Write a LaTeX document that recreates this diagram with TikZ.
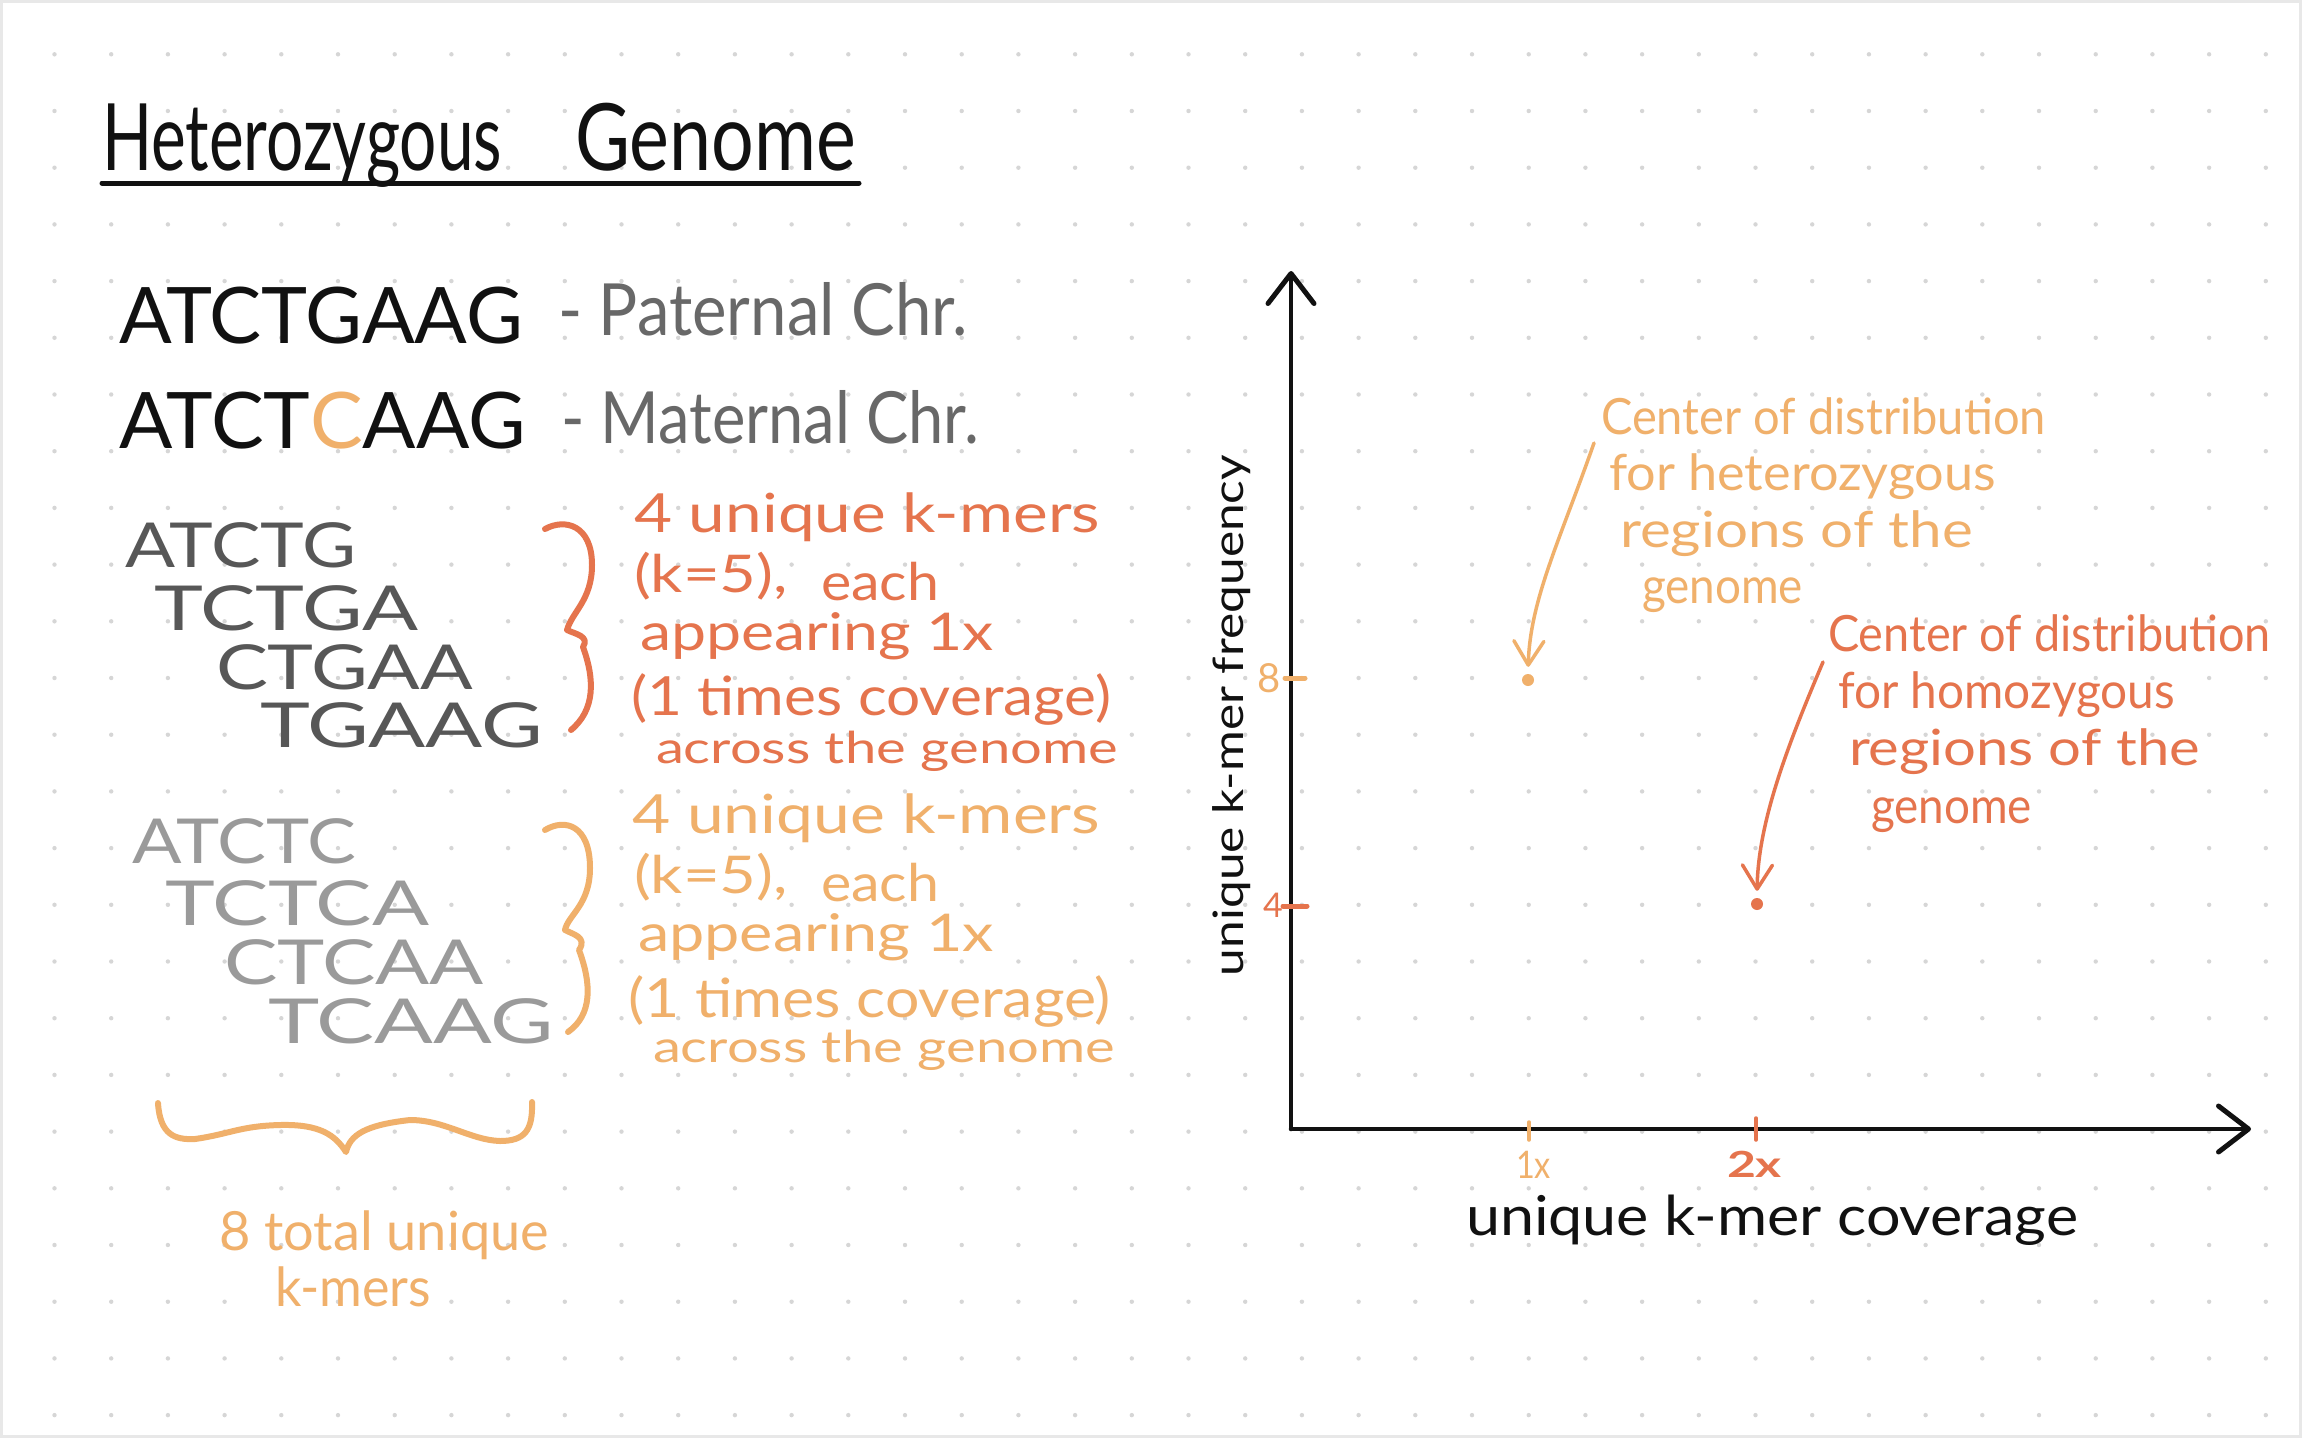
\documentclass[tikz,border=0pt]{standalone}
\usepackage{fontspec}
\setmainfont{Lato}
\usepackage{graphicx}
\usetikzlibrary{arrows.meta}
\definecolor{ink}{HTML}{111111}
\definecolor{greyA}{HTML}{686868}
\definecolor{greyB}{HTML}{575757}
\definecolor{greyC}{HTML}{9A9A9A}
\definecolor{kred}{HTML}{E5744D}
\definecolor{korange}{HTML}{F0B06B}
\definecolor{dotc}{HTML}{D6D6D6}
\definecolor{framec}{HTML}{E8E8E8}
\newcommand\hw[3]{{\fontsize{#1pt}{#1pt}\selectfont\resizebox{#2pt}{\height}{#3}}}
\begin{document}
\begin{tikzpicture}[x=1pt,y=1pt,
  txt/.style={anchor=base west, inner sep=0pt, outer sep=0pt},
  penline/.style={line width=#1, line cap=round, line join=round},
  penline/.default=6pt,
  axis/.style={ink, line width=4.5pt, line cap=round},
  hand/.style={-{Straight Barb[length=24pt,width=30pt,line width=3.5pt,round]}, line width=3.5pt, line cap=round},
  axtip/.style={-{Straight Barb[length=30pt,width=46pt,line width=5pt,round]}},
  plotdot/.style={circle, inner sep=0pt, minimum size=12pt}
]
\useasboundingbox (0,0) rectangle (2302,-1438);
\fill[white] (0,0) rectangle (2302,-1438);
\draw[framec, line width=3pt] (1.5,-1.5) rectangle (2300.5,-1436.5);
% dot grid
\foreach \i in {0,...,39}{
  \foreach \j in {0,...,24}{
    \fill[dotc] ({54.5+\i*56.7},{-54.3-\j*56.7}) circle (2.2);
  }
}
% title
\node[txt, text=ink] (title1) at (102,-170) {\hw{93}{400}{Heterozygous}};
\node[txt, text=ink] (title2) at (575,-170) {\hw{93}{281}{Genome}};
\coordinate (ulL) at (102,-183);
\coordinate (ulR) at (859,-183);
\draw[ink, penline=5pt] (ulL) -- (ulR);
% chromosomes
\node[txt, text=ink] (pat) at (119,-343) {\hw{78}{404}{ATCTGAAG}};
\node[txt, text=greyA] (patl) at (558,-335) {\hw{72}{410}{- Paternal Chr.}};
\node[txt, text=ink] (mat) at (119,-448) {\hw{78}{407}{ATCT\textcolor{korange}{C}AAG}};
\node[txt, text=greyA] (matl) at (561,-443) {\hw{72}{418}{- Maternal Chr.}};
% paternal k-mers
\node[txt, text=greyB] (r1) at (125,-567) {\hw{62}{231}{ATCTG}};
\node[txt, text=greyB] (r2) at (154,-630) {\hw{62}{264}{TCTGA}};
\node[txt, text=greyB] (r3) at (216,-689) {\hw{62}{257}{CTGAA}};
\node[txt, text=greyB] (r4) at (260,-747) {\hw{62}{283}{TGAAG}};
% maternal k-mers
\node[txt, text=greyC] (o1) at (132,-863) {\hw{62}{224}{ATCTC}};
\node[txt, text=greyC] (o2) at (165,-925) {\hw{62}{264}{TCTCA}};
\node[txt, text=greyC] (o3) at (224,-984) {\hw{62}{260}{CTCAA}};
\node[txt, text=greyC] (o4) at (268,-1043) {\hw{62}{286}{TCAAG}};
% braces
\draw[kred, penline] (545,-529) .. controls (565,-518) and (592,-525) .. (592,-565)
  .. controls (592,-600) and (572,-612) .. (567,-630)
  .. controls (575,-634) and (590,-636) .. (583,-647)
  .. controls (595,-680) and (595,-710) .. (571,-730);
\draw[korange, penline] (545,-830) .. controls (565,-818) and (590,-825) .. (590,-868)
  .. controls (590,-905) and (568,-915) .. (565,-930)
  .. controls (572,-934) and (588,-937) .. (579,-950)
  .. controls (592,-985) and (592,-1015) .. (568,-1032);
% red description
\node[txt, text=kred] (rd1) at (634,-532) {\hw{54}{466}{4 unique k-mers}};
\node[txt, text=kred] (rd2) at (634,-592) {\hw{52}{154}{(k=5),}};
\node[txt, text=kred] (rd2b) at (821,-600) {\hw{52}{118}{each}};
\node[txt, text=kred] (rd3) at (640,-650) {\hw{52}{354}{appearing 1x}};
\node[txt, text=kred] (rd4) at (631,-715) {\hw{54}{480}{(1 times coverage)}};
\node[txt, text=kred] (rd5) at (656,-763) {\hw{44}{462}{across the genome}};
% orange description
\node[txt, text=korange] (od1) at (632,-833) {\hw{54}{468}{4 unique k-mers}};
\node[txt, text=korange] (od2) at (634,-893) {\hw{52}{154}{(k=5),}};
\node[txt, text=korange] (od2b) at (821,-901) {\hw{52}{118}{each}};
\node[txt, text=korange] (od3) at (638,-951) {\hw{52}{356}{appearing 1x}};
\node[txt, text=korange] (od4) at (628,-1017) {\hw{54}{483}{(1 times coverage)}};
\node[txt, text=korange] (od5) at (653,-1062) {\hw{44}{462}{across the genome}};
% under brace
\draw[korange, penline] (158,-1103) .. controls (160,-1135) and (175,-1140) .. (195,-1139)
  .. controls (230,-1134) and (240,-1126) .. (280,-1125)
  .. controls (320,-1124) and (335,-1135) .. (346,-1152)
  .. controls (350,-1135) and (365,-1125) .. (410,-1120)
  .. controls (445,-1120) and (470,-1140) .. (500,-1141)
  .. controls (525,-1141) and (533,-1130) .. (532,-1102);
\node[txt, text=korange] (tot1) at (219,-1250) {\hw{54}{330}{8 total unique}};
\node[txt, text=korange] (tot2) at (275,-1306) {\hw{54}{156}{k-mers}};
% axes
\coordinate (O) at (1291,-1129);
\coordinate (ytop) at (1291,-271);
\coordinate (xend) at (2251,-1129);
\draw[axis, axtip] (O) -- (ytop);
\draw[axis, axtip] (O) -- (xend);
% ticks
\coordinate (t8a) at (1285,-678); \coordinate (t8b) at (1305,-678);
\coordinate (t4a) at (1283,-906); \coordinate (t4b) at (1307,-906);
\coordinate (t1a) at (1529,-1122); \coordinate (t1b) at (1529,-1140);
\coordinate (t2a) at (1756,-1118); \coordinate (t2b) at (1756,-1140);
\draw[korange, penline=5pt] (t8a) -- (t8b);
\draw[kred, penline=5pt] (t4a) -- (t4b);
\draw[korange, penline=3.5pt] (t1a) -- (t1b);
\draw[kred, penline=3.5pt] (t2a) -- (t2b);
\node[text=korange, inner sep=0pt] (l8) at (1269,-678) {\fontsize{40pt}{40pt}\selectfont 8};
\node[text=kred, inner sep=0pt] (l4) at (1273,-905) {\fontsize{34pt}{34pt}\selectfont 4};
\node[txt, text=korange] (l1x) at (1516,-1178) {\hw{38}{35}{1x}};
\node[txt, text=kred] (l2x) at (1727,-1177) {\hw{36}{55}{\bfseries 2x}};
% axis labels
\node[txt, text=ink] (xlab) at (1466,-1235) {\hw{55}{612}{unique k-mer coverage}};
\node[txt, text=ink, rotate=90] (ylab) at (1243,-976) {\hw{42}{521}{unique k-mer frequency}};
% points
\node[plotdot, fill=korange] (pH) at (1528,-680) {};
\node[plotdot, fill=kred] (pM) at (1757,-904) {};
% annotations
\node[txt, text=korange] (ah1) at (1601,-434) {\hw{50}{445}{Center of distribution}};
\node[txt, text=korange] (ah2) at (1609,-490) {\hw{50}{387}{for heterozygous}};
\node[txt, text=korange] (ah3) at (1620,-547) {\hw{50}{353}{regions of the}};
\node[txt, text=korange] (ah4) at (1642,-603) {\hw{50}{161}{genome}};
\node[txt, text=kred] (am1) at (1828,-651) {\hw{50}{443}{Center of distribution}};
\node[txt, text=kred] (am2) at (1838,-708) {\hw{50}{337}{for homozygous}};
\node[txt, text=kred] (am3) at (1849,-765) {\hw{50}{351}{regions of the}};
\node[txt, text=kred] (am4) at (1871,-823) {\hw{50}{161}{genome}};
\coordinate (aHs) at (1594,-443);
\coordinate (aMs) at (1823,-662);
\draw[korange, hand, shorten >=7pt] (aHs) .. controls (1560,-540) and (1530,-600) .. (pH.north);
\draw[kred, hand, shorten >=7pt] (aMs) .. controls (1790,-740) and (1758,-820) .. (pM.north);
\end{tikzpicture}
\end{document}
